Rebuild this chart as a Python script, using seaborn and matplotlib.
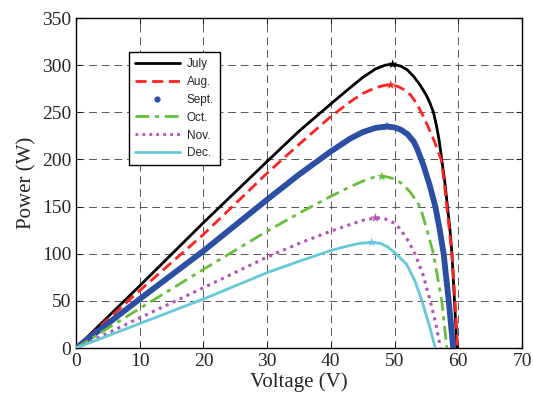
import matplotlib
matplotlib.use("Agg")
import matplotlib.pyplot as plt
from matplotlib.lines import Line2D
import numpy as np
import pandas as pd
import seaborn as sns


# P-V curves (voltage in V, power in W)
july_v = [0, 10, 20, 30, 35, 40, 43, 45, 47, 48.5, 49.7, 51, 52, 53, 54, 55, 55.6, 56.1, 56.6, 57.0, 57.4, 57.9, 58.3, 58.7, 59.0, 59.4, 59.8]
july_p = [0, 66, 133, 198, 230, 259, 276, 287, 296, 300, 301, 299, 295, 288, 279, 268, 259, 250, 235, 220, 200, 175, 150, 125, 100, 50, 0]

aug_v = [0, 10, 20, 30, 35, 40, 43, 45, 47, 48.3, 49.4, 50.5, 51.5, 52.5, 53.5, 54.5, 55.1, 56.2, 57.3, 57.8, 58.2, 58.6, 59.0, 59.5, 59.9]
aug_p = [0, 61, 120.5, 185.6, 216, 245.6, 261, 270, 276, 278.5, 279, 277.5, 274, 268.5, 259, 246, 237, 220, 200, 175, 150, 125, 100, 50, 0]

sept_v = [0, 10, 20, 30, 35, 40, 43, 45, 47, 48.8, 50, 51, 52, 53, 53.5, 54.5, 55.5, 56.4, 57.1, 57.7, 58.5, 59.2]
sept_p = [0, 52, 103, 157.5, 184, 208.6, 222, 229, 233.5, 235, 234, 231.5, 227, 219, 212, 194.5, 173, 150, 125, 100, 50, 0]

oct_v = [0, 10, 20, 30, 35, 40, 43, 45, 46.7, 48.0, 49.2, 50.4, 51.4, 52.5, 53.3, 54.0, 55.1, 56.1, 57.4, 58.2]
oct_p = [0, 42, 83.5, 124, 143, 161, 171, 177, 181, 182, 181, 178, 173, 165, 157, 150, 125, 100, 50, 0]

nov_v = [0, 10, 20, 30, 35, 40, 43, 45, 47.0, 48.5, 49.8, 50.8, 51.4, 52.3, 53.2, 54.5, 55.6, 56.5, 57.2]
nov_p = [0, 32, 64, 96.5, 111, 124, 131, 135.5, 138, 137, 133, 127, 121, 112, 100, 77, 50, 25, 0]

dec_v = [0, 10, 20, 30, 35, 40, 42.5, 44.5, 46.4, 47.8, 49.0, 50.2, 51.9, 53.2, 54.3, 55.4, 56.4]
dec_p = [0, 26, 52, 80, 92, 103.5, 108, 111, 112, 111, 107, 100, 88.8, 71, 50, 25, 0]

# maximum power points
mpp_v = [49.7, 49.4, 48.8, 48.0, 47.0, 46.4]
mpp_p = [301, 279, 235, 182, 138, 112]

months = ["July", "Aug.", "Sept.", "Oct.", "Nov.", "Dec."]
colors = ["#000000", "#ff2222", "#2d4fa3", "#66bf3a", "#b452b0", "#66c8d8"]
styles = ["-", (0, (4, 2)), "-", (0, (5, 2, 1.5, 2)), (0, (1, 1.5)), "-"]
widths = [2.0, 2.0, 4.2, 2.0, 2.2, 2.0]

sns.set_style("ticks")
plt.rcParams["font.family"] = ["Liberation Serif", "DejaVu Serif"]

fig = plt.figure(figsize=(5.33, 4.01), dpi=100)
ax = fig.add_axes([0.1426, 0.132, 0.8368, 0.823])

curves = [
    (july_v, july_p),
    (aug_v, aug_p),
    (sept_v, sept_p),
    (oct_v, oct_p),
    (nov_v, nov_p),
    (dec_v, dec_p),
]

for (v, p), name, c, ls, lw in zip(curves, months, colors, styles, widths):
    df = pd.DataFrame({"Voltage": v, "Power": p})
    sns.lineplot(data=df, x="Voltage", y="Power", ax=ax, color=c,
                 linestyle=ls, linewidth=lw, zorder=3)

mpp_df = pd.DataFrame({"Voltage": mpp_v, "Power": mpp_p, "Month": months})
sns.scatterplot(data=mpp_df, x="Voltage", y="Power", hue="Month",
                palette=colors, marker="*", s=50, edgecolor="none",
                legend=False, ax=ax, zorder=4)

ax.set_xlim(0, 70)
ax.set_ylim(0, 350)
ax.set_xticks(np.arange(0, 71, 10))
ax.set_yticks(np.arange(0, 351, 50))
ax.tick_params(direction="in", top=True, right=True, labelsize=14, length=4, width=0.8)
ax.grid(True, color="#555555", linestyle=(0, (8, 5)), linewidth=0.7)
ax.set_axisbelow(True)
for s in ax.spines.values():
    s.set_linewidth(1.0)
    s.set_color("black")

ax.set_xlabel("Voltage (V)", fontsize=15, labelpad=2)
ax.set_ylabel("Power (W)", fontsize=15, labelpad=4)

handles = []
for name, c, ls, lw in zip(months, colors, styles, widths):
    if name == "Sept.":
        handles.append(Line2D([], [], color=c, linestyle="none", marker="o", markersize=3.5))
    else:
        handles.append(Line2D([], [], color=c, linestyle=ls, linewidth=2.0))

leg = ax.legend(handles, months, loc="upper left", bbox_to_anchor=(0.105, 0.915),
                frameon=True, fancybox=False, edgecolor="black", framealpha=1,
                handlelength=3.8, handletextpad=0.6, borderpad=0.5,
                labelspacing=0.5, prop={"family": "Liberation Sans", "size": 8.5})
leg.get_frame().set_linewidth(1.0)

fig.savefig("out.png", dpi=100)
